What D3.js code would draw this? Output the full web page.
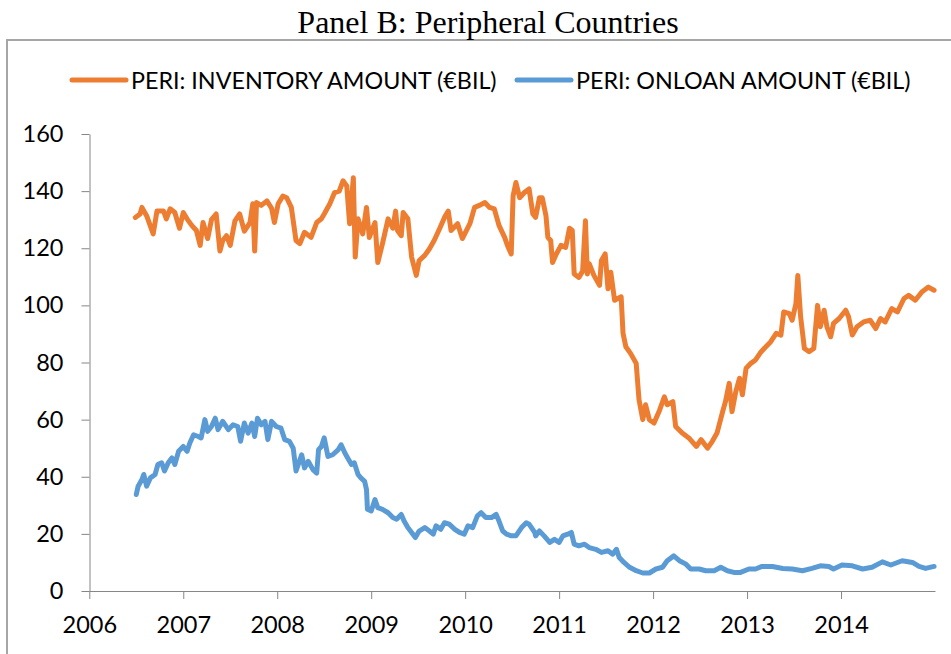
<!DOCTYPE html>
<html>
  <head>
    <meta charset="utf-8">
    <title>Panel B: Peripheral Countries</title>
    <script src="https://d3js.org/d3.v7.min.js"></script>
    <style>
      body { margin: 0; background: #fff; }
      .tick text { font-family: Lato, "Open Sans", sans-serif; font-size: 23.5px; fill: #000; }
      .tick line, .domain { stroke: #868686; }
    </style>
  </head>
  <body>
    <div id="vis"></div>
    <script>
        const width = 951;
        const height = 654;

        // series (decimal years, EUR bn)
        const invYears = [2006.49,2006.54,2006.56,2006.61,2006.68,2006.72,2006.79,2006.82,2006.86,2006.91,2006.96,2007.00,2007.04,2007.09,2007.14,2007.18,2007.21,2007.26,2007.30,2007.35,2007.39,2007.42,2007.46,2007.50,2007.55,2007.60,2007.65,2007.71,2007.74,2007.76,2007.78,2007.83,2007.89,2007.94,2007.97,2008.01,2008.06,2008.10,2008.15,2008.20,2008.24,2008.29,2008.36,2008.42,2008.47,2008.50,2008.56,2008.61,2008.66,2008.70,2008.74,2008.77,2008.81,2008.83,2008.86,2008.91,2008.95,2008.98,2009.04,2009.07,2009.12,2009.18,2009.23,2009.26,2009.28,2009.32,2009.34,2009.39,2009.43,2009.48,2009.51,2009.57,2009.62,2009.67,2009.73,2009.78,2009.82,2009.85,2009.92,2009.97,2010.05,2010.10,2010.15,2010.21,2010.26,2010.31,2010.36,2010.42,2010.45,2010.49,2010.51,2010.54,2010.58,2010.63,2010.68,2010.72,2010.75,2010.79,2010.82,2010.86,2010.88,2010.91,2010.93,2010.97,2011.02,2011.07,2011.11,2011.14,2011.16,2011.21,2011.25,2011.28,2011.30,2011.32,2011.37,2011.43,2011.45,2011.49,2011.52,2011.55,2011.59,2011.66,2011.68,2011.71,2011.76,2011.82,2011.85,2011.89,2011.92,2011.96,2012.01,2012.07,2012.12,2012.15,2012.21,2012.24,2012.31,2012.38,2012.46,2012.51,2012.58,2012.63,2012.68,2012.74,2012.77,2012.81,2012.84,2012.88,2012.92,2012.95,2012.99,2013.04,2013.09,2013.15,2013.20,2013.25,2013.31,2013.36,2013.39,2013.45,2013.48,2013.52,2013.54,2013.57,2013.61,2013.66,2013.71,2013.75,2013.78,2013.82,2013.85,2013.89,2013.92,2013.98,2014.05,2014.08,2014.12,2014.17,2014.24,2014.31,2014.37,2014.42,2014.47,2014.54,2014.60,2014.67,2014.72,2014.79,2014.86,2014.93,2014.99];
        const inventory = [130.8,132,134.3,131.4,125,133,133,130.3,133.8,132.5,127,132.5,130.3,128,126.2,121,129,123.4,130,132,119,122.7,124.4,121,129.6,132,126,129,135.6,119,136,135,136.6,134,129,135.6,138.3,137.7,134.3,122.7,121.6,125.6,123.8,129,130.3,132,135.6,139.5,140,143.6,141.8,128.6,144.7,116.9,130.3,125,134.3,123.8,129,115,121.6,130.3,127,133,126.2,124.4,132.5,130.3,116.9,110.5,115.7,117.5,119.8,122.7,127,130.8,133,126.2,128.6,123.4,128.6,134.3,135,136,134.3,133.8,128,123.8,121,118,138.3,143,137.7,139.5,140.8,132,130.8,137.7,137.7,131.4,123.8,122.7,115,118,121,120.3,127,126.2,111,109.8,112,129.6,111,114.6,110.5,107,115.7,118,105.8,111.6,101.8,103,90.2,85.5,83.2,79.7,67,60,65.2,60,58.8,63.4,68,65.2,66.3,57.6,55.3,53.6,50.6,53,50,52.4,55.3,62.8,66.3,72.7,62.8,69.8,74.5,68.7,78,79.7,80.9,83.8,85.5,87.2,90.2,89.6,97.7,97.1,94.8,100.6,110.5,96,84.9,83.8,84.9,100,92.5,98.3,92.5,89,93.7,95.4,98.3,96,89.6,92.5,94.2,94.8,91.9,95.4,94.2,98.9,97.7,102.4,103.5,101.8,104.7,106.4,105.3];

        const loanYears = [2006.50,2006.52,2006.56,2006.58,2006.61,2006.65,2006.70,2006.73,2006.77,2006.80,2006.84,2006.88,2006.91,2006.95,2007.00,2007.04,2007.07,2007.11,2007.16,2007.19,2007.23,2007.26,2007.30,2007.34,2007.37,2007.42,2007.48,2007.53,2007.58,2007.61,2007.65,2007.69,2007.73,2007.76,2007.79,2007.83,2007.87,2007.90,2007.94,2007.99,2008.04,2008.08,2008.13,2008.17,2008.20,2008.26,2008.29,2008.33,2008.38,2008.42,2008.44,2008.47,2008.50,2008.54,2008.59,2008.65,2008.68,2008.72,2008.75,2008.79,2008.82,2008.86,2008.89,2008.93,2008.95,2008.96,2009.00,2009.04,2009.07,2009.12,2009.18,2009.23,2009.27,2009.32,2009.35,2009.39,2009.43,2009.47,2009.51,2009.57,2009.62,2009.66,2009.69,2009.74,2009.78,2009.83,2009.89,2009.94,2009.99,2010.03,2010.08,2010.13,2010.17,2010.22,2010.28,2010.33,2010.36,2010.40,2010.44,2010.49,2010.54,2010.60,2010.65,2010.68,2010.74,2010.75,2010.79,2010.84,2010.90,2010.95,2011.00,2011.04,2011.09,2011.13,2011.16,2011.21,2011.27,2011.32,2011.39,2011.45,2011.52,2011.57,2011.61,2011.64,2011.69,2011.75,2011.82,2011.89,2011.96,2012.03,2012.10,2012.15,2012.22,2012.28,2012.35,2012.40,2012.49,2012.56,2012.65,2012.72,2012.79,2012.86,2012.93,2013.02,2013.09,2013.16,2013.27,2013.38,2013.48,2013.59,2013.69,2013.78,2013.87,2013.92,2014.01,2014.12,2014.23,2014.33,2014.44,2014.53,2014.65,2014.76,2014.83,2014.90,2014.99];
        const onloan = [33.8,36.7,39,40.8,36.7,39.6,40.8,44.3,44.9,42,44.9,46.6,44.3,48.9,50.6,48.9,51.8,54.7,54.1,53.6,60,55.9,57.6,60.5,56.5,59.4,56.5,58.2,57.6,52.4,58.8,55.3,58.8,54.1,60.5,58.2,59.4,53,59.4,57.6,57,53,52.4,50,42,47.7,43.1,45.4,42.5,41.3,49.5,50.6,53.6,47.1,47.7,49.5,51.2,48.3,46.6,44.3,44.9,40.8,39.6,38.4,35.5,28.6,28,32,29.2,28.6,27.4,25.7,25.1,26.8,24.5,22.2,20.5,18.7,21,22.2,21,19.9,22.8,21.6,23.9,23.4,21.6,20.5,19.9,22.8,22.2,26.3,27.4,25.7,25.7,26.8,24.5,21,19.9,19.3,19.3,22.2,23.9,23.4,20.5,19.3,21,19.3,17,18.1,17,19.3,19.9,20.5,16.4,15.8,16.4,15.2,14.6,13.5,14.1,12.9,14.6,11.7,10,8.3,7.1,6.3,6.3,7.7,8.3,10.6,12.3,10.6,9.4,7.7,7.7,7.1,7.1,8.3,7.1,6.5,6.5,7.7,7.7,8.6,8.6,7.9,7.7,7.1,7.9,8.8,8.6,7.7,9.1,8.8,7.7,8.3,10.2,9.1,10.6,10,8.6,7.9,8.6];

        const yTicks = [0, 20, 40, 60, 80, 100, 120, 140, 160];
        const xTicks = [2006, 2007, 2008, 2009, 2010, 2011, 2012, 2013, 2014];
        const seriesNames = ["PERI: INVENTORY AMOUNT (€BIL)", "PERI: ONLOAN AMOUNT (€BIL)"];
        const seriesColors = ["#ED7D31", "#5B9BD5"];

        let svg = d3.select('#vis')
                    .append('svg')
                    .attr('width', width)
                    .attr('height', height);

        // chart frame (cut by the picture edge on right and bottom)
        svg.append("rect")
           .attr("x", 7).attr("y", 40)
           .attr("width", 960).attr("height", 640)
           .attr("fill", "none")
           .attr("stroke", "#a6a6a6")
           .attr("stroke-width", 2);

        svg.append("text")
           .attr("x", 488).attr("y", 33)
           .attr("text-anchor", "middle")
           .attr("font-family", "'Liberation Serif', 'Times New Roman', serif")
           .attr("font-size", 32)
           .text("Panel B: Peripheral Countries");

        const x = d3.scaleLinear().domain([2006, 2015]).range([89.3, 935]);
        const y = d3.scaleLinear().domain([0, 160]).range([591, 134]);

        svg.append("g")
           .attr("transform", "translate(89.5,0)")
           .call(d3.axisLeft(y).tickValues(yTicks).tickSize(8).tickSizeOuter(0).tickPadding(18));

        svg.append("g")
           .attr("transform", "translate(0,591)")
           .call(d3.axisBottom(x).tickValues(xTicks).tickFormat(d3.format("d")).tickSize(8).tickSizeOuter(0).tickPadding(17));

        const line = d3.line()
                       .x(d => x(d[0]))
                       .y(d => y(d[1]));

        const series = [
          d3.zip(invYears, inventory),
          d3.zip(loanYears, onloan)
        ];

        svg.append("g")
           .selectAll("path")
           .data(series)
           .enter()
           .append("path")
           .attr("d", line)
           .attr("fill", "none")
           .attr("stroke", (d, i) => seriesColors[i])
           .attr("stroke-width", 5)
           .attr("stroke-linejoin", "round")
           .attr("stroke-linecap", "round");

        // legend
        const legendX = [72, 517];
        const legend = svg.append("g")
                          .selectAll("g")
                          .data(seriesNames)
                          .enter()
                          .append("g")
                          .attr("transform", (d, i) => `translate(${legendX[i]},80)`);

        legend.append("line")
              .attr("x1", 0).attr("x2", 54)
              .attr("stroke", (d, i) => seriesColors[i])
              .attr("stroke-width", 5)
              .attr("stroke-linecap", "round");

        legend.append("text")
              .attr("x", 59).attr("y", 8.5)
              .attr("font-family", "Lato, 'Open Sans', sans-serif")
              .attr("font-size", 23.3)
              .text(d => d);
    </script>
  </body>
</html>
